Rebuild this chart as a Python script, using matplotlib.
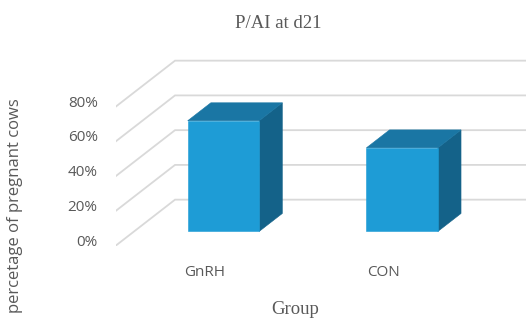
import matplotlib
matplotlib.use("Agg")
import matplotlib.pyplot as plt
from matplotlib.patches import Polygon

# data
groups = ["GnRH", "CON"]
values = [63.7, 48.1]          # percent of pregnant cows
ticks = [0, 20, 40, 60, 80]
tick_labels = ["0%", "20%", "40%", "60%", "80%"]

# look of the fake 3d box
DEPTH_X = 0.332      # x units for full floor depth
DEPTH_Y = 26.5       # percent units for full floor depth
BAR_W = 0.40
D0, D1 = 0.31, 0.70  # bar depth range (fraction of floor)

C_FRONT = "#1e9cd6"
C_TOP = "#1a76a4"
C_SIDE = "#146289"
GRID = "#d9d9d9"
TXT = "#595959"

W, H = 526, 319
fig = plt.figure(figsize=(W / 100, H / 100), dpi=100)
ax = fig.add_axes([115.7 / W, (H - 245.7) / H, 410.3 / W, 195.7 / H])
ax.set_xlim(-0.5, -0.5 + 410.3 / 178.7)
ax.set_ylim(0, 195.7 / 1.7375)
ax.axis("off")


def proj(x, y, d):
    # oblique projection: depth moves up and to the right
    return (x + d * DEPTH_X, y + d * DEPTH_Y)


# gridlines: floor diagonal on the left wall, then along the back wall
x_left = -0.5
x_right = len(groups) - 0.5
for t in ticks:
    fx, fy = proj(x_left, t, 0)
    bx, by = proj(x_left, t, 1)
    ex, ey = proj(x_right, t, 1)
    ax.plot([fx, bx, ex], [fy, by, ey], color=GRID, lw=1.3,
            solid_joinstyle="miter", zorder=1)

# tick labels
for t, lab in zip(ticks, tick_labels):
    ax.annotate(lab, (x_left, t), xytext=(-13, 2.5), textcoords="offset points",
                ha="right", va="center", fontsize=11, color=TXT,
                family="Open Sans", annotation_clip=False)

# bars
for i, v in enumerate(values):
    x0, x1 = i - BAR_W / 2, i + BAR_W / 2
    front = [proj(x0, 0, D0), proj(x1, 0, D0), proj(x1, v, D0), proj(x0, v, D0)]
    side = [proj(x1, 0, D0), proj(x1, 0, D1), proj(x1, v, D1), proj(x1, v, D0)]
    top = [proj(x0, v, D0), proj(x1, v, D0), proj(x1, v, D1), proj(x0, v, D1)]
    for pts, c in ((side, C_SIDE), (top, C_TOP), (front, C_FRONT)):
        ax.add_patch(Polygon(pts, closed=True, facecolor=c, edgecolor=c,
                             lw=0.4, zorder=3))
    ax.annotate(groups[i], proj(i, 0, 0), xytext=(0, -19.5), textcoords="offset points",
                ha="center", va="center", fontsize=11, color=TXT,
                family="Open Sans", annotation_clip=False)

# titles
fig.text(278 / W, 1 - 23 / H, "P/AI at d21", ha="center", va="center",
         fontsize=13.5, color=TXT, family="Liberation Serif")
fig.text(295 / W, 1 - 310 / H, "Group", ha="center", va="center",
         fontsize=13.5, color=TXT, family="Liberation Serif")
fig.text(15 / W, 1 - 206 / H, "percetage of pregnant cows", rotation=90,
         ha="center", va="center", fontsize=12, color=TXT, family="Open Sans")

fig.savefig("out.png", dpi=100, facecolor="white")
